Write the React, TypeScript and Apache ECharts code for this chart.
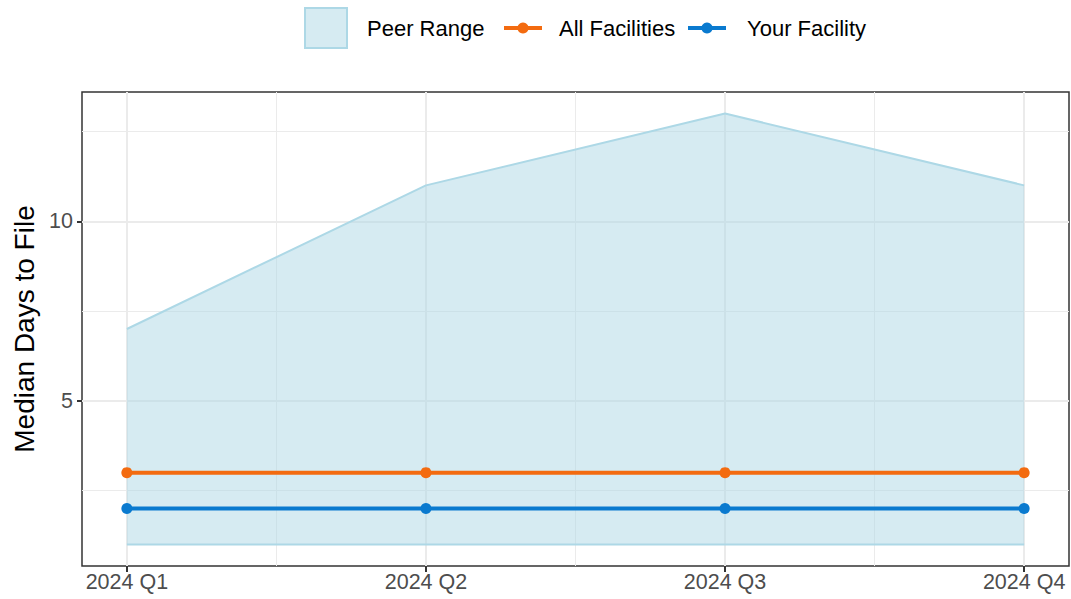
import React, { useEffect, useRef } from "react";
import * as echarts from "echarts";

const categories = ["2024 Q1", "2024 Q2", "2024 Q3", "2024 Q4"];
const peerLower = [1, 1, 1, 1];
const peerUpper = [7, 11, 13, 11];
const allFacilities = [3, 3, 3, 3];
const yourFacility = [2, 2, 2, 2];
const yMajorTicks = [5, 10];
const yMinorTicks = [2.5, 7.5, 12.5];
const xMinorTicks = [0.5, 1.5, 2.5];

const FONT = "'Liberation Sans', Arial, Helvetica, sans-serif";
const ORANGE = "#F36B10";
const BLUE = "#0A7ACF";
const RIBBON_LINE = "#ADD8E6";
const RIBBON_FILL = "rgba(173,216,230,0.5)";
const GRID_COLOR = "#EBEBEB";

const toPoints = (vals: number[]) => vals.map((v, i) => [i, v]);

export default function App() {
  const ref = useRef<HTMLDivElement>(null);
  useEffect(() => {
    if (!ref.current) return;
    const chart = echarts.init(ref.current, undefined, { renderer: "svg" });
    const xIdx = categories.map((_, i) => i);
    const xBase = { type: "value", min: -0.15, max: 3.15, gridIndex: 0 };
    const yBase = { type: "value", min: 0.4, max: 13.6, gridIndex: 0 };
    const legendText = { fontSize: 22, color: "#000", fontFamily: FONT };
    chart.setOption({
      animation: false,
      backgroundColor: "#ffffff",
      textStyle: { fontFamily: FONT },
      grid: {
        left: 82,
        right: 2,
        top: 92,
        bottom: 33,
        show: true,
        backgroundColor: "#ffffff",
        borderColor: "#333333",
        borderWidth: 1.5,
        containLabel: false,
      },
      legend: [
        {
          data: [
            {
              name: "Peer Range",
              icon: "rect",
              itemStyle: { color: RIBBON_FILL, borderColor: RIBBON_LINE, borderWidth: 2 },
            },
          ],
          left: 304,
          top: 7,
          itemWidth: 42,
          itemHeight: 40,
          padding: 0,
          textStyle: { ...legendText, padding: [0, 0, 0, 15] },
        },
        {
          data: ["All Facilities"],
          left: 502,
          top: 17,
          itemWidth: 38,
          itemHeight: 14,
          padding: 0,
          lineStyle: { width: 4 },
          textStyle: { ...legendText, padding: [0, 0, 0, 12] },
        },
        {
          data: ["Your Facility"],
          left: 686,
          top: 17,
          itemWidth: 38,
          itemHeight: 14,
          padding: 0,
          lineStyle: { width: 4 },
          textStyle: { ...legendText, padding: [0, 0, 0, 16] },
        },
      ],
      xAxis: [
        {
          ...xBase,
          axisLine: { show: false, onZero: false },
          axisTick: {
            show: true,
            customValues: xIdx,
            length: 6,
            lineStyle: { color: "#333333", width: 2 },
          },
          axisLabel: {
            show: true,
            customValues: xIdx,
            formatter: (v: number) => categories[Math.round(v)] ?? "",
            fontSize: 21.5,
            color: "#4D4D4D",
            margin: 5,
            fontFamily: FONT,
          },
          splitLine: { show: true, lineStyle: { color: GRID_COLOR, width: 2 } },
        },
        {
          ...xBase,
          axisLine: { show: false, onZero: false },
          axisTick: { show: false, customValues: xMinorTicks },
          axisLabel: { show: false, customValues: xMinorTicks },
          splitLine: { show: true, lineStyle: { color: GRID_COLOR, width: 1 } },
        },
      ],
      yAxis: [
        {
          ...yBase,
          name: "Median Days to File",
          nameLocation: "middle",
          nameGap: 39,
          nameTextStyle: { fontSize: 28, color: "#000", fontFamily: FONT },
          axisLine: { show: false, onZero: false },
          axisTick: {
            show: true,
            customValues: yMajorTicks,
            length: 5,
            lineStyle: { color: "#333333", width: 2 },
          },
          axisLabel: {
            show: true,
            customValues: yMajorTicks,
            fontSize: 21.5,
            color: "#4D4D4D",
            margin: 9,
            fontFamily: FONT,
          },
          splitLine: { show: true, lineStyle: { color: GRID_COLOR, width: 2 } },
        },
        {
          ...yBase,
          axisLine: { show: false, onZero: false },
          axisTick: { show: false, customValues: yMinorTicks },
          axisLabel: { show: false, customValues: yMinorTicks },
          splitLine: { show: true, lineStyle: { color: GRID_COLOR, width: 1 } },
        },
      ],
      series: [
        {
          name: "Peer Range",
          type: "line",
          xAxisIndex: 0,
          yAxisIndex: 0,
          data: toPoints(peerUpper),
          symbol: "none",
          lineStyle: { color: RIBBON_LINE, width: 2 },
          itemStyle: { color: RIBBON_FILL },
          areaStyle: { color: RIBBON_FILL, origin: peerLower[0], opacity: 1 },
          z: 1,
        },
        {
          name: "Peer Lower",
          type: "line",
          xAxisIndex: 0,
          yAxisIndex: 0,
          data: toPoints(peerLower),
          symbol: "none",
          lineStyle: { color: RIBBON_LINE, width: 2 },
          z: 2,
        },
        {
          name: "All Facilities",
          type: "line",
          xAxisIndex: 0,
          yAxisIndex: 0,
          data: toPoints(allFacilities),
          symbol: "circle",
          symbolSize: 11,
          showSymbol: true,
          lineStyle: { color: ORANGE, width: 4 },
          itemStyle: { color: ORANGE },
          z: 3,
        },
        {
          name: "Your Facility",
          type: "line",
          xAxisIndex: 0,
          yAxisIndex: 0,
          data: toPoints(yourFacility),
          symbol: "circle",
          symbolSize: 11,
          showSymbol: true,
          lineStyle: { color: BLUE, width: 4 },
          itemStyle: { color: BLUE },
          z: 3,
        },
      ],
    });
    return () => chart.dispose();
  }, []);
  return (
    <div
      ref={ref}
      style={{ position: "fixed", left: 0, top: 0, width: 1071, height: 599, background: "#fff" }}
    />
  );
}
